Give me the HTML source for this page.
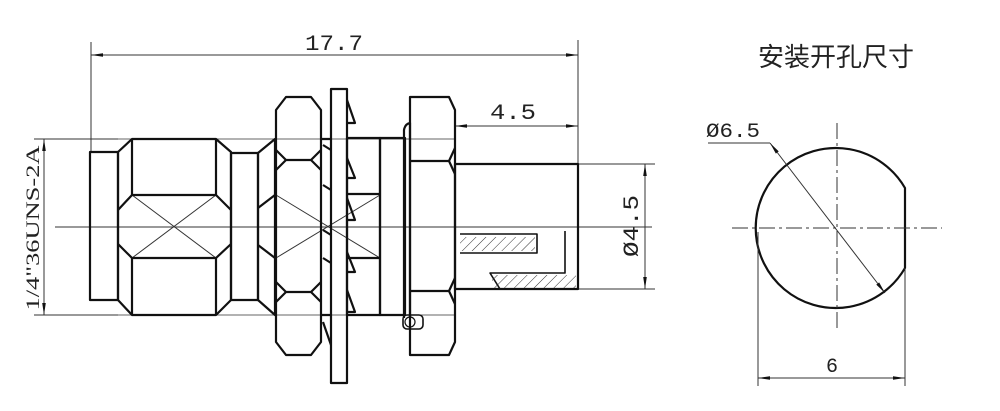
<!DOCTYPE html>
<html><head><style>body{margin:0;background:#fff}svg{display:block}text{font-family:"Liberation Mono","DejaVu Sans Mono",monospace;fill:#222}</style></head>
<body>
<svg width="1000" height="411" viewBox="0 0 1000 411" xmlns="http://www.w3.org/2000/svg">
<defs>
<marker id="a" viewBox="0 0 12 6" refX="12" refY="3" markerWidth="12" markerHeight="6" orient="auto-start-reverse" markerUnits="userSpaceOnUse"><path d="M0,1.2 L12,3 L0,4.8z" fill="#111"/></marker>
<pattern id="h" width="7" height="7" patternUnits="userSpaceOnUse" patternTransform="rotate(45)"><line x1="0" y1="0" x2="0" y2="7" stroke="#333" stroke-width="1"/></pattern>
</defs>
<g stroke="#111" fill="none">
<g stroke-width="1" stroke="#333">
<line x1="91" y1="42" x2="91" y2="152"/>
<line x1="578" y1="40" x2="578" y2="164"/>
<line x1="91" y1="55" x2="578" y2="55" marker-start="url(#a)" marker-end="url(#a)"/>
<line x1="455" y1="126" x2="578" y2="126" marker-start="url(#a)" marker-end="url(#a)"/>
<line x1="34" y1="139" x2="118" y2="139"/>
<line x1="34" y1="315" x2="118" y2="315"/>
<line x1="44" y1="139" x2="44" y2="315" marker-start="url(#a)" marker-end="url(#a)"/>
<line x1="578" y1="164" x2="655" y2="164"/>
<line x1="578" y1="289" x2="655" y2="289"/>
<line x1="645" y1="164" x2="645" y2="289" marker-start="url(#a)" marker-end="url(#a)"/>
<line x1="55" y1="227" x2="652" y2="227"/>
<line x1="132" y1="195" x2="216" y2="258"/><line x1="132" y1="258" x2="216" y2="195"/>
<line x1="276" y1="195" x2="380" y2="258"/><line x1="276" y1="258" x2="380" y2="195"/>
<line x1="118" y1="139" x2="455" y2="139" stroke-width="0.8"/>
<line x1="118" y1="315" x2="455" y2="315" stroke-width="0.8"/>
</g>
<g stroke-width="2.2" stroke-linejoin="round">
<rect x="90" y="152" width="28" height="148"/>
<path d="M118,152 L132,139 L216,139 L231,152 L231,300 L216,315 L132,315 L118,300Z"/>
<line x1="132" y1="139" x2="132" y2="195"/><line x1="216" y1="139" x2="216" y2="195"/>
<line x1="132" y1="258" x2="132" y2="315"/><line x1="216" y1="258" x2="216" y2="315"/>
<path d="M118,210 L132,195 L216,195 L231,210"/>
<path d="M118,244 L132,258 L216,258 L231,244"/>
<rect x="231" y="153" width="27" height="147"/>
<path d="M258,153 L275,139 L275,315 L258,300Z"/>
<path d="M258,208 L275,195 M258,245 L275,258"/>
<path d="M276,110 L286,97 L311,97 L321,110 L321,342 L311,355 L286,355 L276,342Z"/>
<path d="M276,170 L286,160 L311,160 L321,170 M276,150 L286,160 M311,160 L321,150"/>
<path d="M276,282 L286,292 L311,292 L321,282 M276,302 L286,292 M311,292 L321,302"/>
<path d="M321,139 L331,139 M321,315 L331,315"/>
<rect x="347" y="138" width="33" height="177"/>
<line x1="347" y1="194" x2="380" y2="194"/><line x1="347" y1="258" x2="380" y2="258"/>
<rect x="380" y="138" width="25" height="177"/>
<rect x="331" y="89" width="16" height="294"/>
<path d="M347,100 L355,123 L347,123"/>
<path d="M347,158 L355,178 L347,178"/>
<path d="M347,198 L355,220 L347,220"/>
<path d="M347,252 L355,272 L347,272"/>
<path d="M347,290 L355,312 L347,312"/>
<path d="M323,145 L331,150 M323,185 L331,190 M323,230 L331,235 M323,258 L331,263 M323,322 L331,345"/>
<path d="M404,318 L404,130 Q405,124 410,123 L410,318"/>
<path d="M410,97 L449,97 L455,110 L455,342 L449,355 L410,355Z"/>
<path d="M410,161 L449,161 L455,148 M449,161 L455,174"/>
<path d="M410,291 L449,291 L455,278 M449,291 L455,304"/>
<rect x="403" y="315" width="20" height="14" rx="4" stroke-width="1.6"/>
<circle cx="410" cy="322" r="5" stroke-width="1.2"/>
<rect x="455" y="164" width="123" height="125"/>
<path d="M460,234 L537,234 L537,253 L460,253" stroke-width="1.6"/>
<rect x="460" y="237" width="75" height="14" fill="url(#h)" stroke="none"/>
<path d="M565,231 L565,273 L490,273 L500,289" stroke-width="1.6"/>
<rect x="492" y="275" width="84" height="13" fill="url(#h)" stroke="none"/>
<path d="M905,188 A80,80 0 1 0 905,268 Z"/>
</g>
<g stroke="#333" stroke-width="1" stroke-dasharray="16,4,3,4">
<line x1="732" y1="228" x2="942" y2="228"/>
<line x1="837" y1="123" x2="837" y2="332"/>
</g>
<g stroke="#333" stroke-width="1">
<line x1="708" y1="143" x2="770" y2="143"/>
<line x1="770" y1="143" x2="885" y2="293" marker-start="url(#a)" marker-end="url(#a)"/>
<line x1="758" y1="232" x2="758" y2="386"/>
<line x1="905" y1="268" x2="905" y2="386"/>
<line x1="758" y1="378" x2="905" y2="378" marker-start="url(#a)" marker-end="url(#a)"/>
</g>
</g>
<text x="305" y="50" font-size="22" textLength="58" lengthAdjust="spacingAndGlyphs">17.7</text>
<text x="490" y="119" font-size="22" textLength="46" lengthAdjust="spacingAndGlyphs">4.5</text>
<text x="826" y="372" font-size="20">6</text>
<text x="706" y="137" font-size="20" textLength="54" lengthAdjust="spacingAndGlyphs">Ø6.5</text>
<text x="758" y="66" font-size="26" style="font-family:'Noto Sans CJK SC',sans-serif">安装开孔尺寸</text>
<text transform="translate(638,226) rotate(-90)" text-anchor="middle" font-size="22" textLength="62" lengthAdjust="spacingAndGlyphs">Ø4.5</text>
<text transform="translate(39,228) rotate(-90)" text-anchor="middle" font-size="19" textLength="165" lengthAdjust="spacingAndGlyphs" style="font-family:'Liberation Serif',serif">1/4"36UNS-2A</text>
</svg>
</body></html>
